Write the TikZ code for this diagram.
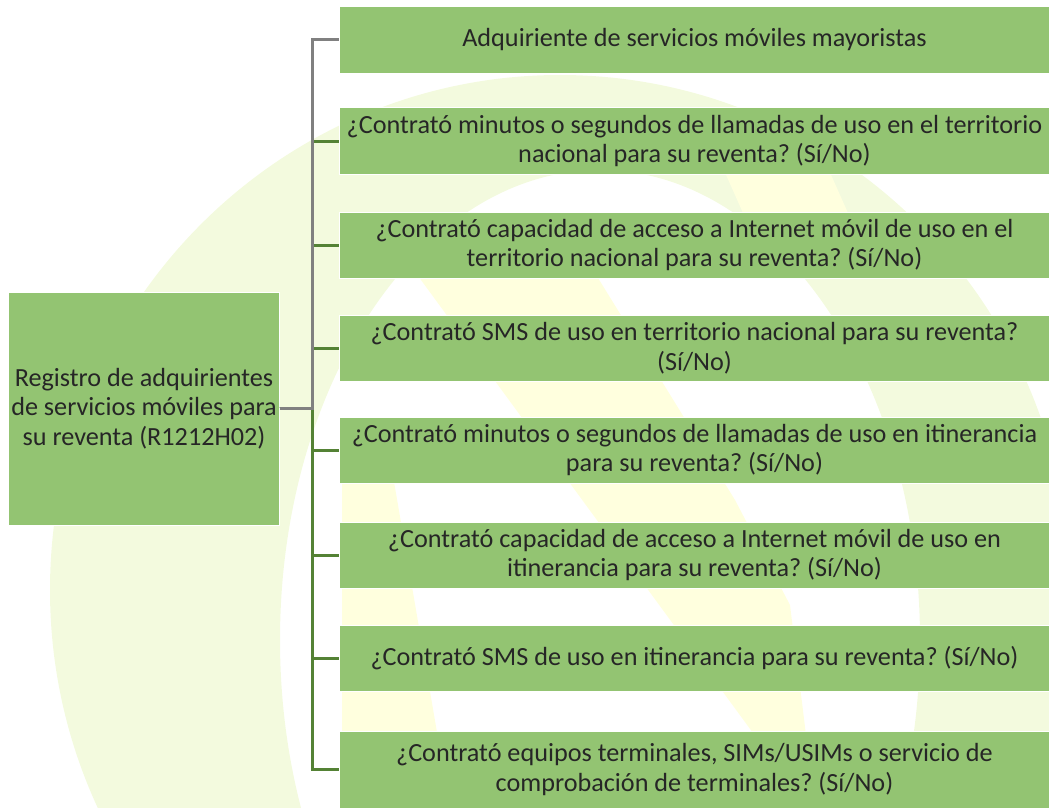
\documentclass[tikz,border=0pt]{standalone}
\usepackage{fontspec}
\setmainfont{Carlito}
\frenchspacing
\definecolor{boxgreen}{HTML}{93C472}
\definecolor{linegreen}{HTML}{548235}
\definecolor{linegray}{HTML}{808080}
\definecolor{wmgreen}{HTML}{F3FADE}
\definecolor{wmyellow}{HTML}{FFFFDE}
\tikzset{
  rootbox/.style={draw=white, line width=1bp, fill=boxgreen, minimum width=270bp, minimum height=233bp, align=center, inner sep=1bp, font=\fontsize{26.3}{29.5}\selectfont, text=black!85},
  leafbox/.style={draw=white, line width=1bp, fill=boxgreen, minimum width=709bp, minimum height=66bp, align=center, inner sep=1bp, font=\fontsize{26.3}{30}\selectfont, text=black!85},
  grayconn/.style={draw=linegray, line width=3bp},
  greenconn/.style={draw=linegreen, line width=3bp}
}
\begin{document}
\begin{tikzpicture}[x=1bp,y=-1bp]
\useasboundingbox (0,0) rectangle (1049,808);
% watermark
\fill[wmgreen, even odd rule] (560,590) ellipse [x radius=510, y radius=515] (600,640) ellipse [x radius=320, y radius=470];
\begin{scope}
\clip (600,640) ellipse [x radius=320, y radius=470];
\fill[wmyellow] (410,265) -- (590,265) -- (735,500) -- (790,605) -- (815,808) -- (808,808) -- cycle;
\fill[wmyellow] (342,470) -- (392,470) -- (450,808) -- (342,808) -- cycle;
\end{scope}
\fill[wmyellow] (715,150) -- (820,150) -- (860,240) -- (755,240) -- cycle;
% nodes
\node[rootbox] (root) at (144,408.5) {Registro de adquirientes\\de servicios móviles para\\su reventa (R1212H02)};
\node[leafbox] (b1) at (694.5,40) {Adquiriente de servicios móviles mayoristas};
\node[leafbox] (b2) at (694.5,141) {¿Contrató minutos o segundos de llamadas de uso en el territorio\\nacional para su reventa? (Sí/No)};
\node[leafbox] (b3) at (694.5,245) {¿Contrató capacidad de acceso a Internet móvil de uso en el\\territorio nacional para su reventa? (Sí/No)};
\node[leafbox] (b4) at (694.5,348) {¿Contrató SMS de uso en territorio nacional para su reventa?\\(Sí/No)};
\node[leafbox] (b5) at (694.5,450) {¿Contrató minutos o segundos de llamadas de uso en itinerancia\\para su reventa? (Sí/No)};
\node[leafbox] (b6) at (694.5,555) {¿Contrató capacidad de acceso a Internet móvil de uso en\\itinerancia para su reventa? (Sí/No)};
\node[leafbox] (b7) at (694.5,658.5) {¿Contrató SMS de uso en itinerancia para su reventa? (Sí/No)};
\node[leafbox, minimum height=77bp] (b8) at (694.5,769.5) {¿Contrató equipos terminales, SIMs/USIMs o servicio de\\comprobación de terminales? (Sí/No)};
% connectors
\coordinate (j) at (312,408.5);
\foreach \b in {b2,b3,b4,b5,b6,b7,b8}{
  \draw[greenconn] (root.east) -- (j) |- (\b.west);
}
\draw[grayconn] (root.east) -- (j) |- (b1.west);
\end{tikzpicture}
\end{document}
